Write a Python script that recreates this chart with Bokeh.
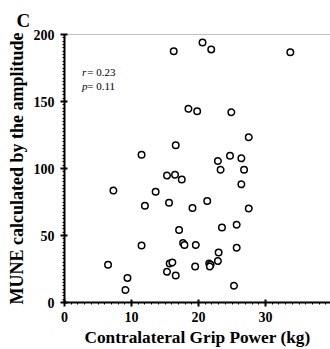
from bokeh.plotting import figure
from bokeh.models import Range1d, Span, Label, FixedTicker
from bokeh.embed import file_html
from bokeh.resources import INLINE

grip_power = [27.5, 16.6, 11.5, 24.7, 22.9, 26.4, 23.3, 26.8, 15.3, 16.5, 17.5, 26.4,
              7.3, 13.6, 15.6, 21.3, 12.0, 19.1, 27.5, 17.1, 23.5, 25.7, 11.5, 17.7,
              17.9, 19.6, 23.0, 25.7, 6.5, 15.7, 16.1, 19.5, 21.6, 21.8, 21.7, 22.9,
              9.4, 15.3, 16.6, 9.1, 25.3, 16.3, 20.6, 21.9, 33.7, 18.5, 19.8, 24.9]
mune = [123.3, 117.3, 110.3, 109.6, 105.6, 107.6, 99.1, 99.1, 94.7, 95.4, 91.7, 88.2,
        83.5, 82.7, 74.5, 75.8, 72.2, 70.5, 70.2, 54.1, 56.0, 58.0, 42.6, 44.4,
        42.9, 42.9, 37.4, 40.9, 28.2, 29.1, 29.9, 26.9, 29.1, 28.2, 26.9, 30.9,
        18.2, 22.9, 20.2, 9.3, 12.5, 187.5, 194.0, 188.8, 186.8, 144.5, 142.7, 142.0]
x_ticks = [0, 10, 20, 30]
y_ticks = [0, 50, 100, 150, 200]
panel_label = "C"
r_text = "r"
r_value = " = 0.23"
p_text = "p"
p_value = " = 0.11"

FONT = "Liberation Serif"

p = figure(width=330, height=349, output_backend="svg", toolbar_location=None,
           x_range=Range1d(0, 39.7), y_range=Range1d(0, 200),
           min_border_left=64, min_border_right=0, min_border_top=34, min_border_bottom=47)
p.outline_line_color = None
p.xgrid.visible = False
p.ygrid.visible = False
p.background_fill_color = "white"
p.border_fill_color = "white"

p.title.text = panel_label
p.title.align = "left"
p.title.offset = -48
p.title.standoff = 7
p.title.text_font = FONT
p.title.text_font_style = "bold"
p.title.text_font_size = "19px"
p.title.text_color = "black"

p.scatter(grip_power, mune, size=6.5, marker="circle", fill_color="white",
          line_color="black", line_width=1.5)

for ax in (p.xaxis[0], p.yaxis[0]):
    ax.axis_line_width = 2
    ax.axis_line_color = "black"
    ax.major_tick_line_width = 2
    ax.major_tick_in = 3
    ax.major_tick_out = 4
    ax.minor_tick_line_width = 1
    ax.minor_tick_in = 0
    ax.minor_tick_out = 2
    ax.major_label_text_font = FONT
    ax.major_label_text_font_style = "bold"
    ax.major_label_text_font_size = "14px"
    ax.major_label_text_color = "black"
    ax.axis_label_text_font = FONT
    ax.axis_label_text_font_style = "bold"
    ax.axis_label_text_color = "black"

p.xaxis[0].ticker = FixedTicker(ticks=x_ticks, minor_ticks=[i for i in range(0, 40)])
p.yaxis[0].ticker = FixedTicker(ticks=y_ticks, minor_ticks=[i * 2.5 for i in range(0, 81)])
p.xaxis.axis_label = "Contralateral Grip Power (kg)"
p.yaxis.axis_label = "MUNE calculated by the amplitude"
p.xaxis.axis_label_text_font_size = "17.3px"
p.yaxis.axis_label_text_font_size = "18px"
p.xaxis.major_label_standoff = 5
p.yaxis.major_label_standoff = 6
p.xaxis.axis_label_standoff = 3
p.yaxis.axis_label_standoff = 4

top = Span(location=200, dimension="width", line_color="black", line_width=1.2,
           line_dash="1 1")
p.add_layout(top)

for lab, val, yy in ((r_text, r_value, 167.5), (p_text, p_value, 157)):
    p.add_layout(Label(x=2.6, y=yy, text=lab, text_font=FONT, text_font_style="italic",
                       text_font_size="11px", text_color="black"))
    p.add_layout(Label(x=3.4, y=yy, text=val, text_font=FONT,
                       text_font_size="11px", text_color="black"))

open("out.html", "w").write(file_html(p, INLINE))
